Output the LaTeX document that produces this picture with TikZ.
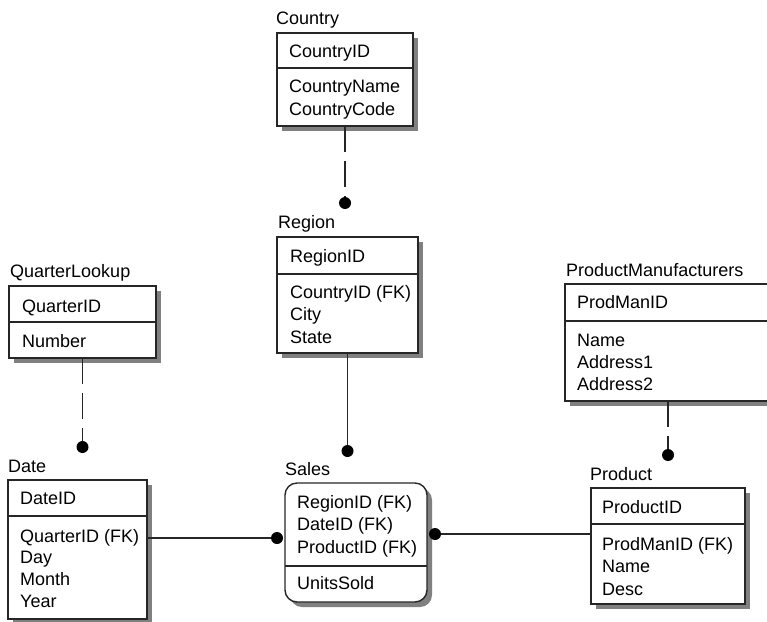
\documentclass[tikz,border=0pt]{standalone}
\usepackage{fontspec}
\setmainfont{Liberation Sans}
\usetikzlibrary{shadows}

\tikzset{
  entity/.style={draw=black!85, line width=1.4pt, fill=white, rectangle,
    anchor=north west, inner sep=0pt, outer sep=0pt,
    drop shadow={shadow xshift=5pt, shadow yshift=-5pt, fill=black!50, opacity=1}},
  depentity/.style={entity, rounded corners=12pt},
  divider/.style={draw=black!85, line width=1.4pt},
  title/.style={anchor=base west, inner sep=0pt, text=black,
    font=\fontsize{18}{22}\selectfont},
  attr/.style={title},
  rel/.style={draw=black!85, line width=1.6pt},
  relnull/.style={rel, dash pattern=on 26pt off 9pt},
  dot/.style={circle, fill=black, inner sep=0pt, minimum size=12pt}
}

\begin{document}
\begin{tikzpicture}[x=1pt, y=-1pt]
\useasboundingbox (0,0) rectangle (767,621);

% ---------- Country ----------
\node[title] (countryT) at (276,24) {Country};
\node[entity, minimum width=136pt, minimum height=93pt] (country) at (277,33) {};
\draw[divider] (country.north west) ++(0,35) -- ++(136,0);
\node[attr] (countryK) at (289,57) {CountryID};
\foreach \t [count=\i] in {CountryName,CountryCode}
  \node[attr] (country-a\i) at (289,{92.5+22.5*(\i-1)}) {\t};

% ---------- Region ----------
\node[title] (regionT) at (278,228) {Region};
\node[entity, minimum width=141pt, minimum height=116pt] (region) at (277,237) {};
\draw[divider] (region.north west) ++(0,37) -- ++(141,0);
\node[attr] (regionK) at (290,262) {RegionID};
\foreach \t [count=\i] in {CountryID (FK),City,State}
  \node[attr] (region-a\i) at (290,{298+22.5*(\i-1)}) {\t};

% ---------- QuarterLookup ----------
\node[title] (quarterT) at (10,277) {QuarterLookup};
\node[entity, minimum width=147pt, minimum height=72pt] (quarter) at (9,286) {};
\draw[divider] (quarter.north west) ++(0,36) -- ++(147,0);
\node[attr] (quarterK) at (22,312) {QuarterID};
\node[attr] (quarter-a1) at (22,347) {Number};

% ---------- Date ----------
\node[title] (dateT) at (8,472) {Date};
\node[entity, minimum width=139pt, minimum height=139pt] (date) at (8,480) {};
\draw[divider] (date.north west) ++(0,36) -- ++(139,0);
\node[attr] (dateK) at (20,504) {DateID};
\foreach \t [count=\i] in {QuarterID (FK),Day,Month,Year}
  \node[attr] (date-a\i) at (20,{542+21.7*(\i-1)}) {\t};

% ---------- Sales ----------
\node[title] (salesT) at (285,475) {Sales};
\node[depentity, minimum width=142pt, minimum height=119pt] (sales) at (285,483) {};
\draw[divider] (sales.north west) ++(0,83) -- ++(142,0);
\foreach \t [count=\i] in {RegionID (FK),DateID (FK),ProductID (FK)}
  \node[attr] (sales-k\i) at (297,{508+22.5*(\i-1)}) {\t};
\node[attr] (sales-a1) at (297,589) {UnitsSold};

% ---------- ProductManufacturers ----------
\node[title] (manT) at (566,276) {ProductManufacturers};
\node[entity, minimum width=206pt, minimum height=117pt] (man) at (565,284) {};
\draw[divider] (man.north west) ++(0,37) -- ++(206,0);
\node[attr] (manK) at (577,308) {ProdManID};
\foreach \t [count=\i] in {Name,Address1,Address2}
  \node[attr] (man-a\i) at (577,{346+22*(\i-1)}) {\t};

% ---------- Product ----------
\node[title] (productT) at (590,480) {Product};
\node[entity, minimum width=154pt, minimum height=116pt] (product) at (591,488) {};
\draw[divider] (product.north west) ++(0,36) -- ++(154,0);
\node[attr] (productK) at (602,513) {ProductID};
\foreach \t [count=\i] in {ProdManID (FK),Name,Desc}
  \node[attr] (product-a\i) at (602,{550+22.5*(\i-1)}) {\t};

% ---------- Relationships ----------
\node[dot] (dCountry) at (345,203) {};
\draw[relnull] (country.south) -- (dCountry);

\node[dot] (dRegion) at (347.5,451) {};
\draw[rel] (region.south) -- (dRegion);

\node[dot] (dQuarter) at (82.5,447) {};
\draw[relnull] (quarter.south) -- (dQuarter);

\node[dot] (dMan) at (668,455) {};
\draw[relnull] (man.south) -- (dMan);

\node[dot] (dDate) at (277,538) {};
\draw[rel] (dDate -| date.east) -- (dDate);

\node[dot] (dProduct) at (435,534) {};
\draw[rel] (dProduct) -- (dProduct -| product.west);
\end{tikzpicture}
\end{document}
